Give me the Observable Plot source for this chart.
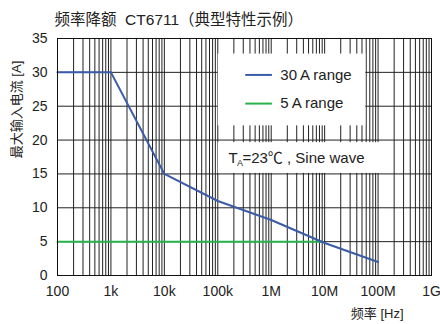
<!DOCTYPE html>
<html>
<head>
<meta charset="utf-8">
<script src="https://cdn.jsdelivr.net/npm/d3@7"></script>
<script src="https://cdn.jsdelivr.net/npm/@observablehq/plot@0.6"></script>
<style>
  html, body { margin: 0; padding: 0; background: #fff; }
  svg { display: block; }
</style>
</head>
<body>
<div id="chart"></div>
<script>
// ---- data ----
const freq30 = [100, 1000, 10000, 100000, 1e6, 1e7, 1e8];
const amp30  = [30, 30, 15, 11, 8.2, 4.8, 2];
const freq5  = [100, 9e6];
const amp5   = [5, 5];
const xTicks = [100, 1e3, 1e4, 1e5, 1e6, 1e7, 1e8, 1e9];
const xTickLabels = ["100", "1k", "10k", "100k", "1M", "10M", "100M", "1G"];
const yTicks = [0, 5, 10, 15, 20, 25, 30, 35];
const titleText = "频率降额  CT6711（典型特性示例）";
const yLabel = "最大输入电流 [A]";
const xLabel = "频率 [Hz]";
const legendLabels = ["30\u2009A range", "5\u2009A range"];

const blue = "#3a5ca8";
const green = "#27b24a";
const font = "'Liberation Sans', Arial, 'Noto Sans CJK SC', sans-serif";

const s30 = freq30.map((f, i) => ({f, a: amp30[i]}));
const s5 = freq5.map((f, i) => ({f, a: amp5[i]}));
const labelMap = new Map(xTicks.map((t, i) => [t, xTickLabels[i]]));

// log grid lines (1..9 x each decade)
const gridX = [];
for (let e = 2; e < 9; e++) for (let m = 1; m < 10; m++) gridX.push(m * Math.pow(10, e));
const gridY = yTicks.slice(1, -1);

const chart = Plot.plot({
  width: 440,
  height: 324,
  marginLeft: 57,
  marginRight: 9,
  marginTop: 38,
  marginBottom: 49,
  style: {fontFamily: font, fontSize: "14px", color: "#222", background: "#fff"},
  x: {type: "log", domain: [100, 1e9]},
  y: {domain: [0, 35]},
  marks: [
    Plot.ruleX(gridX, {stroke: "#222", strokeWidth: 1}),
    Plot.ruleY(gridY, {stroke: "#222", strokeWidth: 1}),
    // legend boxes (white backgrounds)
    Plot.rect([0], {x1: 1.02e5, x2: 5.9e7, y1: 22.1, y2: 32.7, fill: "white"}),
    Plot.rect([0], {x1: 1.02e5, x2: 1.72e8, y1: 15.08, y2: 19.62, fill: "white"}),
    // series
    Plot.line(s5, {x: "f", y: "a", stroke: green, strokeWidth: 2}),
    Plot.line(s30, {x: "f", y: "a", stroke: blue, strokeWidth: 2}),
    Plot.frame({stroke: "#111", strokeWidth: 1}),
    // legend entries
    Plot.link([0], {x1: 3.27e5, x2: 1.03e6, y1: 29.62, y2: 29.62, stroke: blue, strokeWidth: 2}),
    Plot.link([0], {x1: 3.27e5, x2: 1.03e6, y1: 25.39, y2: 25.39, stroke: green, strokeWidth: 2}),
    Plot.text([legendLabels[0]], {x: 1.48e6, y: 29.62, textAnchor: "start", fontSize: 15, fill: "#222"}),
    Plot.text([legendLabels[1]], {x: 1.48e6, y: 25.39, textAnchor: "start", fontSize: 15, fill: "#222"}),
    // T_A = 23℃ annotation
    Plot.text(["T"], {x: 1.58e5, y: 17.35, textAnchor: "start", fontSize: 15, fill: "#222"}),
    Plot.text(["A"], {x: 1.58e5, y: 17.35, dx: 8.5, dy: 5, textAnchor: "start", fontSize: 9, fill: "#222"}),
    Plot.text(["=23℃ , Sine wave"], {x: 1.58e5, y: 17.35, dx: 14, textAnchor: "start", fontSize: 15, fill: "#222"}),
    // axes
    Plot.axisX({ticks: xTicks, tickFormat: d => labelMap.get(d), tickSize: 0, tickPadding: 11, fontSize: 14, label: null}),
    Plot.axisY({ticks: yTicks, tickSize: 0, tickPadding: 10, fontSize: 14, label: null}),
    // title and axis labels
    Plot.text([titleText], {frameAnchor: "top-left", dx: -3, dy: -14, lineAnchor: "bottom", textAnchor: "start", fontSize: 15.5, fill: "#222"}),
    Plot.text([xLabel], {frameAnchor: "bottom-right", dx: -28, dy: 38, lineAnchor: "middle", textAnchor: "end", fontSize: 13, fill: "#222"}),
    Plot.text([yLabel], {frameAnchor: "top-left", dx: -41, dy: 71, rotate: -90, lineAnchor: "middle", textAnchor: "middle", fontSize: 13, fill: "#222"})
  ]
});
document.getElementById("chart").appendChild(chart);
</script>
</body>
</html>
